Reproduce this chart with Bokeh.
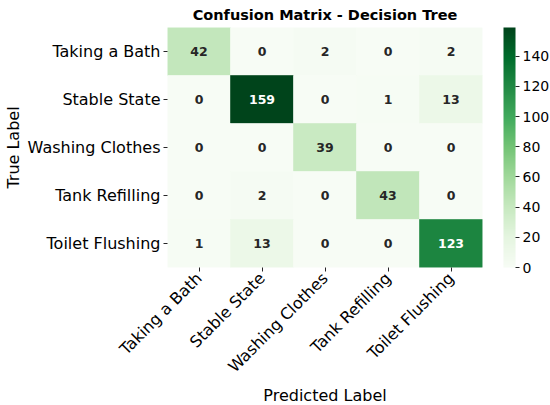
from math import pi
from bokeh.plotting import figure
from bokeh.models import ColumnDataSource, LinearColorMapper, ColorBar, FixedTicker
from bokeh.palettes import Greens256
from bokeh.embed import file_html
from bokeh.resources import INLINE
from bokeh.core.properties import value

# ---- data ----
classes = ["Taking a Bath", "Stable State", "Washing Clothes", "Tank Refilling", "Toilet Flushing"]
row_taking_bath = [42, 0, 2, 0, 2]
row_stable_state = [0, 159, 0, 1, 13]
row_washing_clothes = [0, 0, 39, 0, 0]
row_tank_refilling = [0, 2, 0, 43, 0]
row_toilet_flushing = [1, 13, 0, 0, 123]
colorbar_ticks = [0, 20, 40, 60, 80, 100, 120, 140]

matrix = [row_taking_bath, row_stable_state, row_washing_clothes,
          row_tank_refilling, row_toilet_flushing]
vmax = max(max(r) for r in matrix)

xs, ys, vals, labels, tcols = [], [], [], [], []
for i, true_lab in enumerate(classes):
    for j, pred_lab in enumerate(classes):
        v = matrix[i][j]
        xs.append(pred_lab)
        ys.append(true_lab)
        vals.append(v)
        labels.append(str(v))
        tcols.append("white" if v > 0.6 * vmax else "#262626")

src = ColumnDataSource(dict(pred=xs, true=ys, val=vals, label=labels, tc=tcols))

FONT = "DejaVu Sans"
mapper = LinearColorMapper(palette=list(reversed(Greens256)), low=0, high=vmax)

p = figure(x_range=classes, y_range=list(reversed(classes)),
           frame_width=315, frame_height=240,
           output_backend="svg", toolbar_location=None,
           title="Confusion Matrix - Decision Tree",
           min_border_left=160, min_border_right=63,
           min_border_top=0, min_border_bottom=0)

p.rect(x="pred", y="true", width=1, height=1, source=src,
       fill_color={"field": "val", "transform": mapper},
       line_color={"field": "val", "transform": mapper}, line_width=0.6)
p.text(x="pred", y="true", text="label", source=src,
       text_align="center", text_baseline="middle",
       text_font=value(FONT), text_font_style="bold",
       text_font_size="12.5px", text_color="tc")

p.title.text_font = FONT
p.title.text_font_size = "14.5px"
p.title.text_font_style = "bold"
p.title.align = "center"
p.title.text_color = "black"
p.title.standoff = 9

p.grid.visible = False
p.outline_line_color = None
for ax in (p.xaxis[0], p.yaxis[0]):
    ax.axis_line_color = None
    ax.major_tick_in = 0
    ax.major_tick_out = 4
    ax.major_tick_line_color = "#262626"
    ax.major_label_text_font = FONT
    ax.major_label_text_font_size = "16px"
    ax.major_label_text_color = "black"
    ax.major_label_standoff = 3
    ax.axis_label_text_font = FONT
    ax.axis_label_text_font_size = "16px"
    ax.axis_label_text_font_style = "normal"
    ax.axis_label_text_color = "black"

p.xaxis.axis_label = "Predicted Label"
p.yaxis.axis_label = "True Label"
p.xaxis.major_label_orientation = pi / 4
p.xaxis.major_label_standoff = 4
p.xaxis.axis_label_standoff = 0
p.yaxis.axis_label_standoff = 2

cb = ColorBar(color_mapper=mapper, ticker=FixedTicker(ticks=colorbar_ticks),
              width=12, height=240, location=(21, 0), padding=0, margin=0,
              major_label_text_font=FONT, major_label_text_font_size="14px",
              major_label_text_color="black",
              major_tick_in=0, major_tick_out=4, major_tick_line_color="#262626",
              bar_line_color=None, border_line_color=None,
              background_fill_color=None, label_standoff=3)
p.add_layout(cb, "right")

open("out.html", "w").write(file_html(p, INLINE))
